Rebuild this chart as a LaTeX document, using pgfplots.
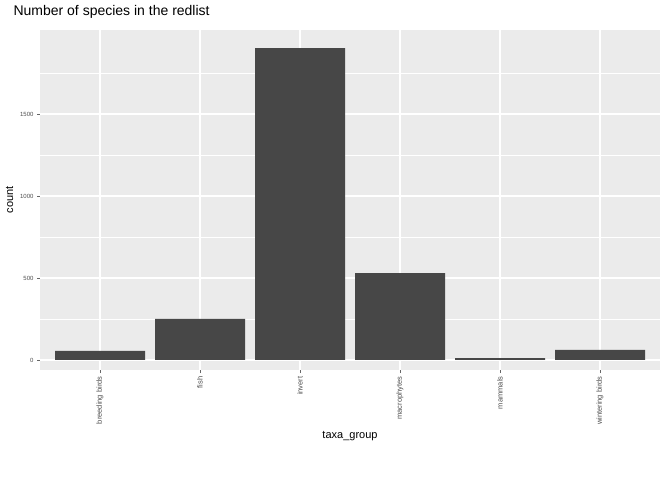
\documentclass[border=0pt]{standalone}
\usepackage{pgfplots}
\pgfplotsset{compat=1.18}
\usepackage{fontspec}
\setmainfont{Liberation Sans}
\definecolor{panel}{RGB}{235,235,235}
\definecolor{bar}{RGB}{71,71,71}
\begin{document}
\begin{tikzpicture}
\path[use as bounding box] (0,0) rectangle (672pt,480pt);
\begin{axis}[
  at={(40pt,110pt)}, anchor=south west,
  scale only axis, width=620pt, height=340pt,
  xmin=-0.6, xmax=5.6, ymin=-61, ymax=2012,
  axis background/.style={fill=panel},
  axis line style={draw=none},
  xtick={0,...,5},
  xticklabels={breeding birds,fish,invert,macrophytes,mammals,wintering birds},
  x tick label style={rotate=90, anchor=east, font=\fontsize{7.5}{8}\selectfont, text=black!70},
  ytick={0,500,1000,1500},
  minor ytick={250,750,1250,1750},
  y tick label style={font=\fontsize{6}{7}\selectfont, text=black!70},
  /pgf/number format/assume math mode=true,
  /pgf/number format/1000 sep={},
  grid=both,
  major grid style={white, line width=1.1pt},
  minor grid style={white, line width=0.5pt},
  tick style={black!60, line width=0.5pt},
  major tick length=3pt,
  tick align=outside,
  xtick pos=bottom, ytick pos=left,
  minor tick length=0pt,
  xlabel={taxa\_group}, ylabel={count},
  xlabel style={font=\fontsize{11}{13}\selectfont},
  ylabel style={font=\fontsize{11}{13}\selectfont},
  title={Number of species in the redlist},
  title style={font=\fontsize{14}{16}\selectfont, anchor=south west, at={(0,1)}, xshift=-30pt, yshift=2pt},
]
\addplot[ybar, bar width=0.9, fill=bar, draw=none] coordinates {
(0,55) (1,250) (2,1902) (3,530) (4,12) (5,61)};
\end{axis}
\end{tikzpicture}
\end{document}
